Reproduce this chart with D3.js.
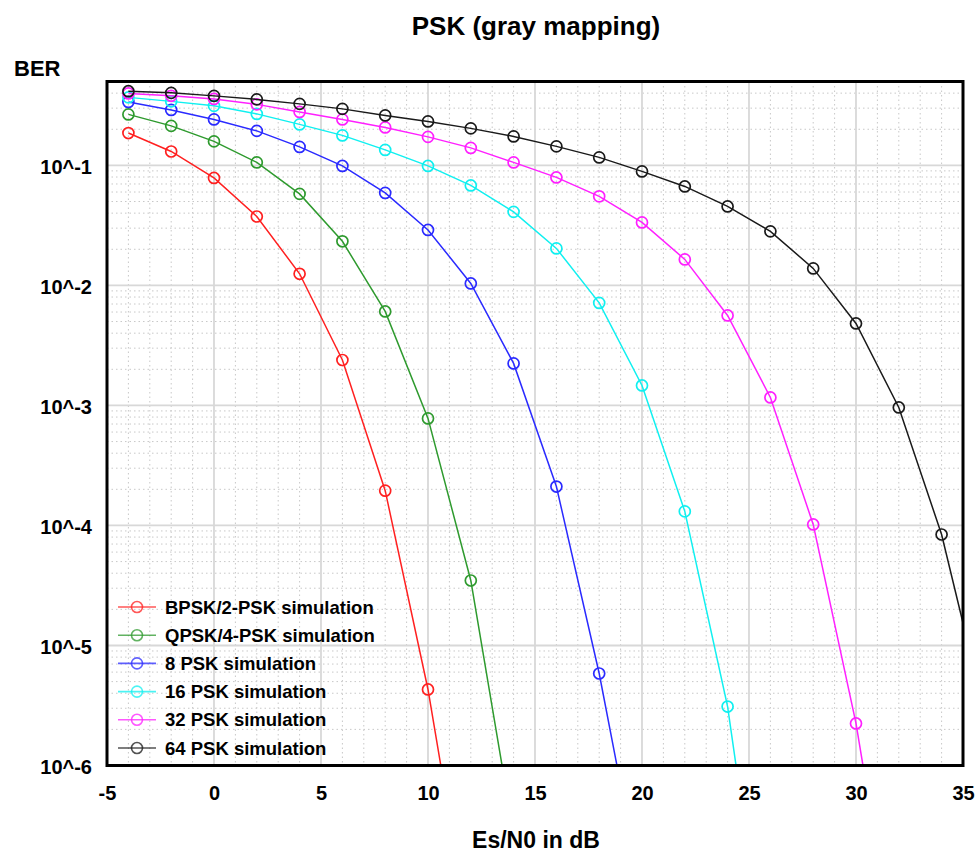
<!DOCTYPE html>
<html>
<head>
<meta charset="utf-8">
<script src="https://cdn.jsdelivr.net/npm/d3@7/dist/d3.min.js"></script>
<style>
  html, body { margin: 0; padding: 0; background: #fff; }
  svg { display: block; }
  text { font-family: "Liberation Sans", Arial, Helvetica, sans-serif; font-weight: bold; fill: #000; }
</style>
</head>
<body>
<svg id="chart" width="980" height="854"></svg>
<script>
// Es/N0 sweep (dB) shared by all simulated curves
const snrDb = [-4, -2, 0, 2, 4, 6, 8, 10, 12, 14, 16, 18, 20, 22, 24, 26, 28, 30, 32, 34, 36];

// Simulated bit error rates, one array per modulation order
const berBpsk  = [0.186, 0.1306, 0.0786, 0.0375, 0.0125, 0.00239, 1.95e-4, 4.3e-6, 3.3e-8];
const berQpsk  = [0.266, 0.2134, 0.1585, 0.1059, 0.0579, 0.0233, 0.00607, 7.8e-4, 3.48e-5, 2.7e-7];
const ber8psk  = [0.338, 0.290, 0.2416, 0.1939, 0.1426, 0.0990, 0.0590, 0.0290, 0.01039, 0.00224, 2.11e-4, 5.84e-6, 8.3e-8];
const ber16psk = [0.3687, 0.3415, 0.3133, 0.2686, 0.2196, 0.1778, 0.1346, 0.0990, 0.0681, 0.0410, 0.02034, 0.00715, 0.001468, 1.31e-4, 3.1e-6, 1e-8];
const ber32psk = [0.398, 0.380, 0.358, 0.3224, 0.2791, 0.2416, 0.2073, 0.1728, 0.1399, 0.1059, 0.0794, 0.0552, 0.0335, 0.01647, 0.00562, 0.001166, 1.02e-4, 2.24e-6, 1.6e-8];
const ber64psk = [0.4150, 0.4020, 0.3795, 0.3548, 0.3255, 0.2957, 0.2610, 0.2326, 0.2034, 0.1744, 0.1440, 0.1166, 0.0891, 0.0668, 0.0455, 0.0282, 0.01386, 0.00482, 9.62e-4, 8.41e-5, 2.82e-6];

const seriesNames = ["BPSK/2-PSK simulation", "QPSK/4-PSK simulation", "8 PSK simulation",
                     "16 PSK simulation", "32 PSK simulation", "64 PSK simulation"];
const seriesColors = ["#ff2020", "#2e9a2e", "#2a2aff", "#10f0f0", "#ff20ff", "#1a1a1a"];
const seriesValues = [berBpsk, berQpsk, ber8psk, ber16psk, ber32psk, ber64psk];

// Axis ticks
const xTicks = [-5, 0, 5, 10, 15, 20, 25, 30, 35];
const yTickExponents = [-1, -2, -3, -4, -5, -6];

const svg = d3.select("#chart");
const plotLeft = 107, plotRight = 963, plotTop = 81.5, plotBottom = 765.5;

const x = d3.scaleLinear().domain([-5, 35]).range([plotLeft, plotRight]);
const y = d3.scaleLog().domain([1e-6, 0.5]).range([plotBottom, plotTop]);

svg.append("defs").append("clipPath").attr("id", "plotClip")
  .append("rect").attr("x", plotLeft).attr("y", plotTop)
  .attr("width", plotRight - plotLeft).attr("height", plotBottom - plotTop);

// Grid: dotted minor lines, then solid major lines
const grid = svg.append("g");
const minorX = d3.range(-5, 36, 1).filter(v => v % 5 !== 0);
grid.selectAll("line.mx").data(minorX).join("line")
  .attr("x1", d => x(d)).attr("x2", d => x(d)).attr("y1", plotTop).attr("y2", plotBottom)
  .attr("stroke", "#c8c8c8").attr("stroke-width", 1).attr("stroke-dasharray", "1.5,3");
const minorY = [];
for (let e = -6; e <= -1; e++) for (let m = 2; m <= 9; m++) { const v = m * Math.pow(10, e); if (v < 0.5) minorY.push(v); }
grid.selectAll("line.my").data(minorY).join("line")
  .attr("x1", plotLeft).attr("x2", plotRight).attr("y1", d => y(d)).attr("y2", d => y(d))
  .attr("stroke", "#c8c8c8").attr("stroke-width", 1).attr("stroke-dasharray", "1.5,3");
grid.selectAll("line.Mx").data(xTicks).join("line")
  .attr("x1", d => x(d)).attr("x2", d => x(d)).attr("y1", plotTop).attr("y2", plotBottom)
  .attr("stroke", "#d8d8d8").attr("stroke-width", 1.8);
grid.selectAll("line.My").data(yTickExponents).join("line")
  .attr("x1", plotLeft).attr("x2", plotRight).attr("y1", d => y(Math.pow(10, d))).attr("y2", d => y(Math.pow(10, d)))
  .attr("stroke", "#d8d8d8").attr("stroke-width", 1.8);

// Curves and markers
const plot = svg.append("g").attr("clip-path", "url(#plotClip)");
const line = d3.line().x(d => x(d[0])).y(d => y(d[1]));
seriesValues.forEach((vals, i) => {
  const pts = vals.map((v, j) => [snrDb[j], v]);
  plot.append("path").datum(pts).attr("d", line)
    .attr("fill", "none").attr("stroke", seriesColors[i]).attr("stroke-width", 1.5);
  plot.selectAll(null).data(pts).join("circle")
    .attr("cx", d => x(d[0])).attr("cy", d => y(d[1])).attr("r", 5.5)
    .attr("fill", "none").attr("stroke", seriesColors[i]).attr("stroke-width", 1.7);
});

// Frame
svg.append("rect").attr("x", plotLeft).attr("y", plotTop).attr("width", plotRight - plotLeft).attr("height", plotBottom - plotTop)
  .attr("fill", "none").attr("stroke", "#000").attr("stroke-width", 3);

// Axis labels via d3 axes (ticks hidden, labels only)
const xAxis = svg.append("g").attr("transform", `translate(0,${plotBottom})`)
  .call(d3.axisBottom(x).tickValues(xTicks).tickSize(0).tickPadding(20).tickFormat(d => String(d)));
xAxis.select(".domain").remove();
xAxis.selectAll("text").attr("font-size", 20).attr("fill", "#000")
  .style("font-family", '"Liberation Sans", Arial, sans-serif').style("font-weight", "bold");

const yAxis = svg.append("g").attr("transform", `translate(${plotLeft},0)`)
  .call(d3.axisLeft(y).tickValues(yTickExponents.map(e => Math.pow(10, e))).tickSize(0).tickPadding(15)
    .tickFormat(d => "10^" + Math.round(Math.log10(d))));
yAxis.select(".domain").remove();
yAxis.selectAll("text").attr("font-size", 20).attr("fill", "#000").attr("dy", "0.42em")
  .style("font-family", '"Liberation Sans", Arial, sans-serif').style("font-weight", "bold");

// Titles
svg.append("text").attr("x", 536).attr("y", 35).attr("text-anchor", "middle").attr("font-size", 26)
  .text("PSK (gray mapping)");
svg.append("text").attr("x", 14).attr("y", 76).attr("font-size", 22).text("BER");
svg.append("text").attr("x", 536).attr("y", 848).attr("text-anchor", "middle").attr("font-size", 23)
  .text("Es/N0 in dB");

// Legend
const legend = svg.append("g");
seriesNames.forEach((name, i) => {
  const ly = 607 + i * 28.2;
  const g = legend.append("g").attr("transform", `translate(0,${ly})`);
  g.append("line").attr("x1", 118).attr("x2", 156).attr("y1", 0).attr("y2", 0)
    .attr("stroke", seriesColors[i]).attr("stroke-width", 1.6).attr("opacity", 0.75);
  g.append("circle").attr("cx", 137).attr("cy", 0).attr("r", 5.5).attr("fill", "none")
    .attr("stroke", seriesColors[i]).attr("stroke-width", 1.6).attr("opacity", 0.75);
  g.append("text").attr("x", 165).attr("y", 0).attr("dy", "0.36em").attr("font-size", 18.5).text(name);
});
</script>
</body>
</html>
